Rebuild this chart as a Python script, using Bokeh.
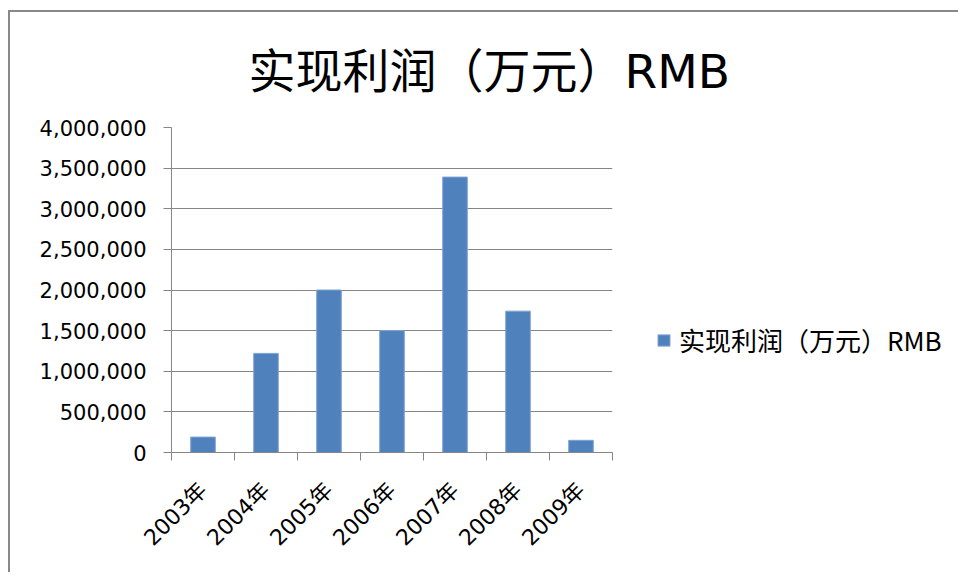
import math
from bokeh.plotting import figure
from bokeh.models import (Range1d, FixedTicker, NumeralTickFormatter, Title,
                          Legend, LegendItem, ColumnDataSource)
from bokeh.embed import file_html
from bokeh.resources import INLINE

years = ["2003年", "2004年", "2005年", "2006年", "2007年", "2008年", "2009年"]
profit = [190000, 1220000, 2000000, 1500000, 3390000, 1740000, 150000]
series_name = "实现利润（万元）RMB"
title_text = "实现利润（万元）RMB"
y_ticks = [0, 500000, 1000000, 1500000, 2000000, 2500000, 3000000, 3500000, 4000000]

idx = list(range(len(years)))
src = ColumnDataSource(dict(x=idx, top=profit, name=years))

GRAY = "#868686"
FONT = "DejaVu Sans, Noto Sans CJK SC"

p = figure(frame_width=441, frame_height=325, output_backend="svg", toolbar_location=None,
           x_range=Range1d(-0.5, len(years) - 0.5), y_range=Range1d(0, 4000000),
           min_border_left=161, min_border_right=0, min_border_top=115,
           min_border_bottom=120)
p.outline_line_color = None
p.styles = {"border-left": "2px solid #888888", "border-top": "2px solid #888888",
            "margin-left": "8px", "margin-top": "10px"}

r = p.vbar(x="x", top="top", width=0.39, source=src, fill_color="#4f81bd",
           line_color="#7ea3d3", line_width=1)

# y axis
yax = p.yaxis[0]
yax.ticker = FixedTicker(ticks=y_ticks)
yax.formatter = NumeralTickFormatter(format="0,0")
yax.axis_line_color = GRAY
yax.major_tick_line_color = GRAY
yax.major_tick_out = 8
yax.major_tick_in = 0
yax.minor_tick_line_color = None
yax.major_label_text_font = FONT
yax.major_label_text_font_size = "21px"
yax.major_label_text_color = "#000000"
yax.major_label_standoff = 17

# x axis
xax = p.xaxis[0]
xax.ticker = FixedTicker(ticks=idx, minor_ticks=[i - 0.5 for i in range(len(years) + 1)])
xax.major_label_overrides = {i: y for i, y in zip(idx, years)}
xax.axis_line_color = GRAY
xax.major_tick_line_color = None
xax.minor_tick_line_color = GRAY
xax.minor_tick_out = 8
xax.minor_tick_in = 0
xax.major_label_orientation = math.pi / 4
xax.major_label_text_font = FONT
xax.major_label_text_font_size = "22px"
xax.major_label_text_color = "#000000"
xax.major_label_standoff = 26

p.xgrid.grid_line_color = None
p.ygrid.grid_line_color = GRAY
p.ygrid.ticker = FixedTicker(ticks=y_ticks)

title = Title(text=title_text, align="left", offset=77, standoff=58,
              text_font="DejaVu Sans, Noto Sans CJK SC", text_font_size="47px",
              text_font_style="normal", text_color="#000000")
p.add_layout(title, "above")

legend = Legend(items=[LegendItem(label=series_name, renderers=[r])],
                location=(44, 94), padding=0, margin=0,
                border_line_color=None, background_fill_alpha=0,
                glyph_width=15, glyph_height=14, label_standoff=8,
                label_text_font="Noto Sans CJK SC", label_text_font_size="26px",
                label_text_color="#000000")
p.add_layout(legend, "right")

open("out.html", "w").write(file_html(p, INLINE))
